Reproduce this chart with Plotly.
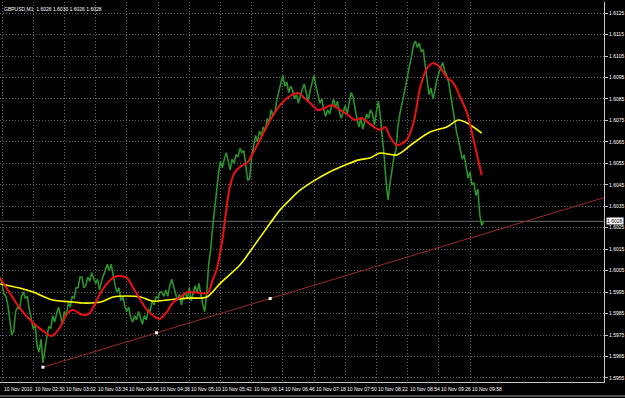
import plotly.graph_objects as go

# ---------------- data ----------------
# x axis: minutes after 10 Nov 2010 01:58 (GBPUSD M1 bars)
title_text = "GBPUSD,M1  1.6026 1.6030 1.6026 1.6028"

green_minutes = list(range(-2, 496, 2))
green_close = [
    1.6002, 1.5999, 1.5994, 1.5993, 1.5989, 1.5981, 1.5975, 1.5977, 1.5986, 1.5988,
    1.5987, 1.5993, 1.5995, 1.5992, 1.5993, 1.5987, 1.5983, 1.5978, 1.5980, 1.5970,
    1.5967, 1.5973, 1.5962, 1.5969, 1.5974, 1.5979, 1.5978, 1.5984, 1.5981, 1.5985,
    1.5988, 1.5984, 1.5980, 1.5986, 1.5984, 1.5990, 1.5988, 1.5993, 1.5992, 1.5997,
    1.5997, 1.6002, 1.6002, 1.5997, 1.5998, 1.6002, 1.6000, 1.6004, 1.6001, 1.5999,
    1.6001, 1.5996, 1.6000, 1.6003, 1.6006, 1.6008, 1.6005, 1.6008, 1.6003, 1.5998,
    1.5995, 1.5997, 1.5991, 1.5993, 1.5988, 1.5986, 1.5988, 1.5983, 1.5981, 1.5984,
    1.5982, 1.5986, 1.5983, 1.5980, 1.5984, 1.5982, 1.5987, 1.5986, 1.5991, 1.5989,
    1.5993, 1.5992, 1.5995, 1.5995, 1.5993, 1.5996, 1.5993, 1.5998, 1.6001, 1.5998,
    1.5995, 1.5991, 1.5994, 1.5989, 1.5993, 1.5995, 1.5992, 1.5997, 1.5991, 1.5994,
    1.5998, 1.5995, 1.5999, 1.5994, 1.5989, 1.5986, 1.5995, 1.6008, 1.6015, 1.6025,
    1.6034, 1.6043, 1.6050, 1.6056, 1.6053, 1.6057, 1.6060, 1.6056, 1.6052, 1.6057,
    1.6055, 1.6059, 1.6058, 1.6062, 1.6060, 1.6061, 1.6053, 1.6047, 1.6048, 1.6058,
    1.6063, 1.6068, 1.6065, 1.6070, 1.6068, 1.6072, 1.6070, 1.6076, 1.6074, 1.6080,
    1.6077, 1.6079, 1.6085, 1.6089, 1.6093, 1.6096, 1.6091, 1.6093, 1.6088, 1.6091,
    1.6089, 1.6085, 1.6087, 1.6083, 1.6087, 1.6090, 1.6092, 1.6088, 1.6084, 1.6089,
    1.6093, 1.6096, 1.6091, 1.6087, 1.6083, 1.6085, 1.6080, 1.6077, 1.6080, 1.6078,
    1.6082, 1.6085, 1.6081, 1.6084, 1.6079, 1.6076, 1.6079, 1.6082, 1.6078, 1.6084,
    1.6088, 1.6086, 1.6080, 1.6076, 1.6072, 1.6076, 1.6071, 1.6074, 1.6078, 1.6076,
    1.6080, 1.6078, 1.6073, 1.6079, 1.6084, 1.6077, 1.6069, 1.6058, 1.6046, 1.6038,
    1.6046, 1.6053, 1.6058, 1.6061, 1.6072, 1.6078, 1.6082, 1.6086, 1.6091, 1.6096,
    1.6100, 1.6105, 1.6110, 1.6112, 1.6109, 1.6111, 1.6107, 1.6108, 1.6101, 1.6095,
    1.6087, 1.6090, 1.6085, 1.6089, 1.6094, 1.6097, 1.6100, 1.6102, 1.6098, 1.6096,
    1.6093, 1.6087, 1.6080, 1.6074, 1.6070, 1.6066, 1.6061, 1.6057, 1.6059, 1.6053,
    1.6048, 1.6051, 1.6045, 1.6046, 1.6040, 1.6043, 1.6031, 1.6026, 1.6028,
]

red_minutes = [
    -2, 8, 18, 32, 42, 51, 59, 67, 73, 83, 90, 101, 111, 118, 128, 134, 142, 149,
    157, 162, 169, 175, 183, 190, 203, 211, 216, 220, 226, 230, 234, 239, 244, 252,
    259, 267, 275, 283, 290, 297, 304, 309, 316, 324, 331, 338, 347, 355, 362, 369,
    375, 383, 388, 393, 398, 405, 415, 422, 429, 436, 442, 449, 456, 463, 470, 477,
    483, 492,
]
red_ma = [
    1.60016, 1.59946, 1.59876, 1.59806, 1.59769, 1.59745, 1.59783, 1.59852, 1.59866,
    1.59843, 1.59852, 1.59946, 1.60006, 1.60025, 1.60016, 1.59974, 1.59913, 1.59866,
    1.59834, 1.59825, 1.59857, 1.59899, 1.59927, 1.59950, 1.59946, 1.59946, 1.60006,
    1.60053, 1.60193, 1.60332, 1.60449, 1.60510, 1.60533, 1.60556, 1.60612, 1.60682,
    1.60752, 1.60808, 1.60845, 1.60868, 1.60878, 1.60859, 1.60831, 1.60798, 1.60808,
    1.60822, 1.60798, 1.60775, 1.60752, 1.60761, 1.60742, 1.60715, 1.60705, 1.60719,
    1.60673, 1.60635, 1.60659, 1.60738, 1.60906, 1.60994, 1.61017, 1.60999, 1.60952,
    1.60924, 1.60859, 1.60784, 1.60673, 1.60495,
]

yellow_minutes = [
    -2, 18, 32, 52, 73, 83, 101, 114, 128, 142, 155, 169, 190, 210, 224, 244, 259,
    270, 285, 295, 306, 321, 336, 352, 365, 377, 388, 405, 422, 439, 456, 468, 477,
    492,
]
yellow_ma = [
    1.59988, 1.59969, 1.59950, 1.59913, 1.59904, 1.59899, 1.59904, 1.59927, 1.59932,
    1.59927, 1.59908, 1.59913, 1.59922, 1.59927, 1.59992, 1.60076, 1.60169, 1.60239,
    1.60332, 1.60379, 1.60426, 1.60472, 1.60510, 1.60542, 1.60565, 1.60575, 1.60598,
    1.60589, 1.60645, 1.60696, 1.60719, 1.60752, 1.60738, 1.60691,
]

trend_minutes = [42, 275]
trend_prices = [1.5960, 1.5992]

x_tick_minutes = [0, 32, 64, 96, 128, 160, 192, 224, 256, 288, 320, 352, 384, 416, 448, 480]
x_tick_labels = [
    "10 Nov 2010", "10 Nov 02:30", "10 Nov 03:02", "10 Nov 03:34", "10 Nov 04:06",
    "10 Nov 04:38", "10 Nov 05:10", "10 Nov 05:42", "10 Nov 06:14", "10 Nov 06:46",
    "10 Nov 07:18", "10 Nov 07:50", "10 Nov 08:22", "10 Nov 08:54", "10 Nov 09:26",
    "10 Nov 09:58",
]
y_tick_values = [
    1.5955, 1.5965, 1.5975, 1.5985, 1.5995, 1.6005, 1.6015, 1.6025, 1.6035,
    1.6045, 1.6055, 1.6065, 1.6075, 1.6085, 1.6095, 1.6105, 1.6115, 1.6125,
]
y_tick_labels = [f"{v:.4f}" for v in y_tick_values]
bid_price = 1.6028

# ---------------- view ----------------
X_RANGE = [-2.05, 617.4]
Y_RANGE = [1.59531, 1.61302]
FONT = "Liberation Sans, Arial, sans-serif"
GRID = "#5a626e"
GRID_DASH = "1px,2px"

fig = go.Figure()

# bid line
fig.add_shape(type="line", xref="paper", x0=0, x1=1, yref="y", y0=bid_price, y1=bid_price,
              line=dict(color="#6e6e6e", width=1), layer="below")

fig.add_trace(go.Scatter(x=green_minutes, y=green_close, mode="lines",
                         line=dict(color="#2c922c", width=1.6), hoverinfo="skip"))
fig.add_trace(go.Scatter(x=yellow_minutes, y=yellow_ma, mode="lines",
                         line=dict(color="#ffff00", width=1.6, shape="spline", smoothing=0.8),
                         hoverinfo="skip"))
fig.add_trace(go.Scatter(x=red_minutes, y=red_ma, mode="lines",
                         line=dict(color="#ee1111", width=2, shape="spline", smoothing=0.8),
                         hoverinfo="skip"))

# trend line (ray to the right edge)
slope = (trend_prices[1] - trend_prices[0]) / (trend_minutes[1] - trend_minutes[0])
ray_x = [trend_minutes[0], X_RANGE[1]]
ray_y = [trend_prices[0], trend_prices[0] + slope * (X_RANGE[1] - trend_minutes[0])]
fig.add_trace(go.Scatter(x=ray_x, y=ray_y, mode="lines",
                         line=dict(color="#9c2a2a", width=1), hoverinfo="skip"))
mid_x = (trend_minutes[0] + trend_minutes[1]) / 2
mid_y = (trend_prices[0] + trend_prices[1]) / 2
fig.add_trace(go.Scatter(x=[trend_minutes[0], mid_x, trend_minutes[1]],
                         y=[trend_prices[0], mid_y, trend_prices[1]], mode="markers",
                         marker=dict(symbol="square", size=3, color="#ffffff",
                                     line=dict(width=0)), hoverinfo="skip"))

# x labels, left aligned at the bar
for m, lab in zip(x_tick_minutes, x_tick_labels):
    fig.add_annotation(x=m, y=0, xref="x", yref="paper", yshift=-2, text=lab,
                       showarrow=False, xanchor="left", yanchor="top",
                       font=dict(color="#ffffff", size=5, family=FONT))

# title
fig.add_annotation(x=0.004, y=1, xref="paper", yref="paper", yshift=-2, text=title_text,
                   showarrow=False, xanchor="left", yanchor="top",
                   font=dict(color="#ffffff", size=5, family=FONT))

# bid price box
fig.add_annotation(x=1, y=bid_price, xref="paper", yref="y", xshift=2, text=f"{bid_price:.4f}",
                   showarrow=False, xanchor="left", yanchor="middle", bgcolor="#ffffff",
                   borderpad=0, font=dict(color="#000000", size=5, family=FONT))

# bottom window strip
fig.add_shape(type="line", xref="paper", yref="paper", x0=0, x1=1.05, y0=-0.037, y1=-0.037,
              line=dict(color="#9a9a9a", width=1))

fig.update_layout(
    width=625, height=398, margin=dict(l=0, r=21, t=2, b=16),
    paper_bgcolor="#000000", plot_bgcolor="#000000", showlegend=False,
    xaxis=dict(range=X_RANGE, tickvals=x_tick_minutes, showticklabels=False,
               showgrid=True, gridcolor=GRID, griddash=GRID_DASH, gridwidth=1,
               zeroline=False, showline=True, linecolor="#c8c8c8", linewidth=1,
               ticks="", fixedrange=True),
    yaxis=dict(range=Y_RANGE, side="right", tickvals=y_tick_values, ticktext=y_tick_labels,
               showgrid=True, gridcolor=GRID, griddash=GRID_DASH, gridwidth=1,
               zeroline=False, showline=True, linecolor="#c8c8c8", linewidth=1,
               ticks="outside", ticklen=3, tickcolor="#c8c8c8",
               tickfont=dict(color="#ffffff", size=5, family=FONT), fixedrange=True),
)

fig.write_html("out.html")
